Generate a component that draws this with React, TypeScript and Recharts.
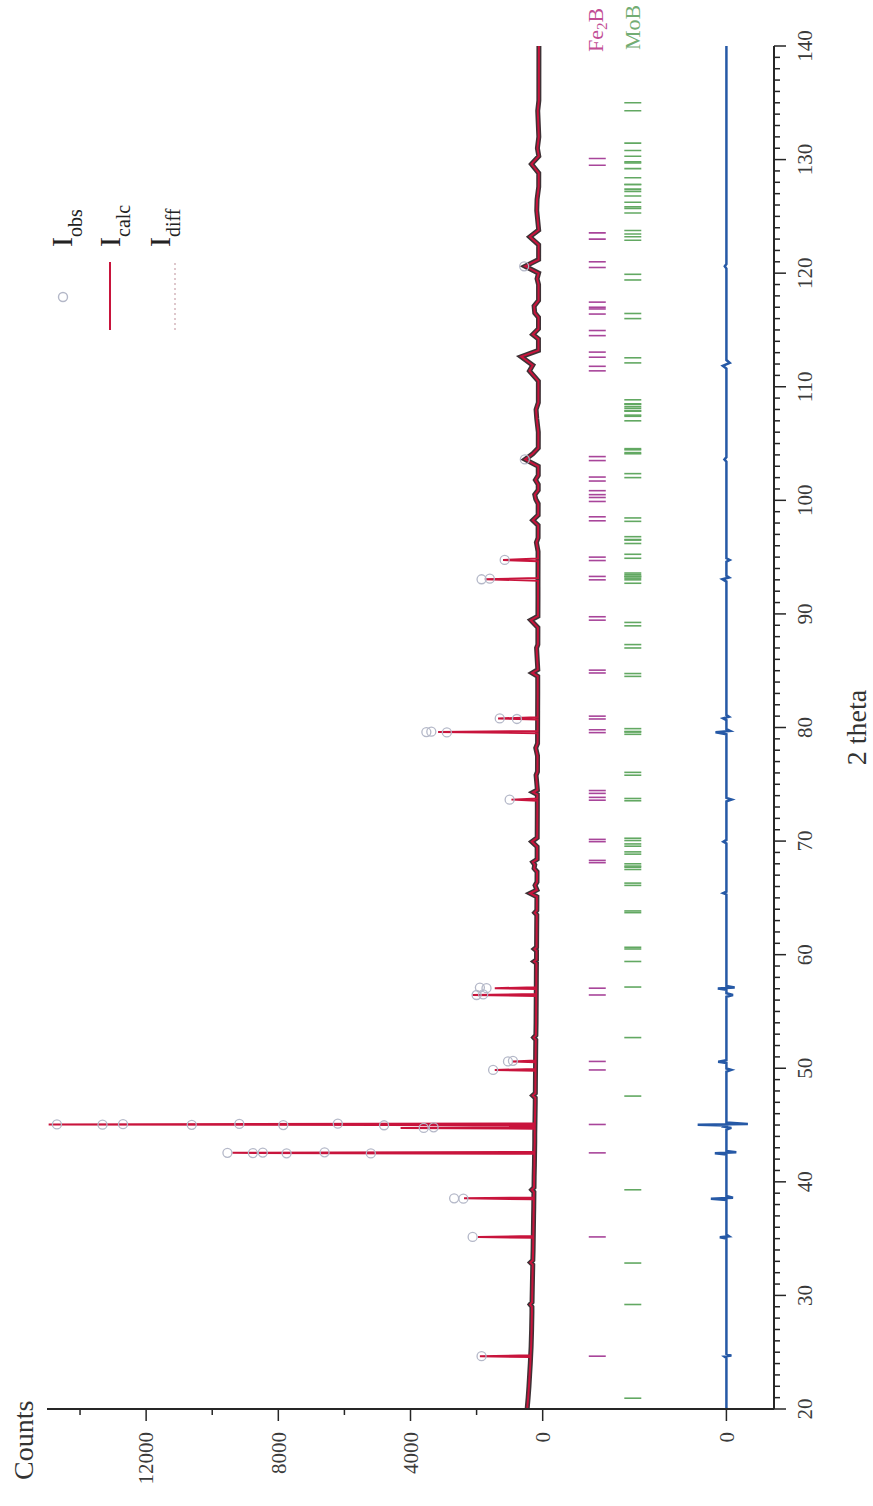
import React from 'react';
import { ComposedChart, Line, Scatter, XAxis, YAxis, Legend } from 'recharts';

const SERIF = '"Liberation Serif", "Times New Roman", "DejaVu Serif", serif';
const W = 1506;
const H = 873;

// ---- axis ticks ----
const twoThetaMajorTicks = [20, 30, 40, 50, 60, 70, 80, 90, 100, 110, 120, 130, 140];
const countMajorTicks = [0, 4000, 8000, 12000];
const countMinorTicks = [2000, 6000, 10000, 14000];
const DIFF_ZERO = -5560; // where the difference curve's own "0" sits on the count axis
const FE2B_ROW = -1652;
const MOB_ROW = -2727;

// ---- background profile (2theta, counts), Iobs ~ Icalc here ----
const background: [number, number][] = [
  [20, 470], [21, 440], [22, 415], [23, 395], [24, 375],
  [25.5, 350], [27, 335], [28.5, 325], [29.0, 325], [29.2, 380], [29.4, 322],
  [30.5, 315], [32, 305], [32.7, 300], [32.9, 370], [33.1, 298], [34, 290],
  [36, 280], [37, 275], [37.8, 270],
  [39.1, 265], [39.3, 330], [39.5, 262], [40.5, 258], [41.5, 250],
  [43.5, 240], [44.2, 240],
  [46, 230], [47, 225], [47.4, 225], [47.6, 300], [47.8, 222], [48.8, 220],
  [51.5, 212], [52.5, 208], [52.7, 270], [52.9, 206], [54, 200], [55, 198], [55.8, 196],
  [57.8, 192], [58.8, 190], [59.25, 188], [59.4, 260], [59.55, 187], [60.35, 186], [60.5, 250], [60.65, 185],
  [62, 182], [63.5, 178], [63.7, 240], [63.9, 177],
  [65.1, 175], [65.4, 380], [65.7, 174], [66.1, 230], [66.4, 172],
  [67.3, 170], [67.6, 260], [67.9, 240], [68.15, 300], [68.4, 168],
  [69.5, 168], [69.95, 330], [70.3, 166], [71.5, 164], [72.8, 162],
  [74.1, 162], [74.3, 290], [74.5, 160], [75.8, 200], [76.1, 158], [77.5, 156], [78.2, 210], [78.6, 155],
  [81.5, 152], [83, 150], [84.5, 150], [84.8, 320], [85.1, 148],
  [87, 185], [87.3, 146], [88.8, 145], [89.45, 360], [89.8, 144], [91.5, 142], [92.4, 142],
  [95.5, 140], [96.3, 190], [96.7, 139], [97.8, 138], [98.25, 300], [98.7, 137],
  [99.7, 136], [100.1, 210], [100.5, 240], [100.9, 135], [101.4, 135], [101.8, 220], [102.2, 134],
  [103, 134], [103.6, 530], [104.1, 300], [104.6, 133],
  [106, 132], [107.2, 180], [108, 200], [108.6, 131],
  [110.5, 130], [111.4, 400], [111.9, 300], [112.65, 650], [113.2, 128],
  [114.2, 128], [114.6, 300], [115.1, 127], [116.1, 126], [116.5, 240], [117.1, 260], [117.6, 125],
  [119, 125], [119.5, 170], [120.0, 124], [120.6, 530], [121.2, 123],
  [122.5, 122], [123.2, 390], [123.8, 121],
  [125.5, 180], [126.5, 170], [127.6, 120], [128.8, 119], [129.6, 340], [130.3, 118],
  [131, 160], [132, 117], [134.3, 150], [135.2, 116], [137, 115], [140, 114],
];

// ---- strong reflections: 2theta, half width, base, Iobs top, Icalc top ----
const peaks: [number, number, number, number, number][] = [
  [24.65, 0.08, 365, 1850, 1900],
  [35.15, 0.08, 285, 2120, 1960],
  [38.55, 0.08, 268, 2680, 2380],
  [42.55, 0.08, 248, 9540, 9390],
  [44.75, 0.08, 240, 3600, 4300],
  [45.05, 0.08, 238, 14700, 14950],
  [49.85, 0.08, 218, 1500, 1450],
  [50.6, 0.08, 215, 1050, 900],
  [56.45, 0.08, 195, 2000, 2125],
  [57.05, 0.08, 193, 1700, 1450],
  [73.65, 0.1, 162, 1000, 945],
  [79.6, 0.1, 153, 3520, 3165],
  [80.8, 0.1, 152, 1300, 1350],
  [93.05, 0.12, 142, 1850, 1750],
  [94.75, 0.12, 141, 1150, 1200],
];

// ---- visible observed points (open circles) ----
const obsMarks: [number, number][] = [
  [45.05, 14700], [45.03, 13320], [45.08, 12700], [45.02, 10620], [45.1, 9180], [45.0, 7850], [45.12, 6200], [44.98, 4800],
  [42.55, 9540], [42.53, 8770], [42.58, 8470], [42.51, 7750], [42.6, 6600], [42.5, 5200],
  [44.75, 3600], [44.8, 3300],
  [38.55, 2680], [38.52, 2400], [35.15, 2120], [24.65, 1850],
  [49.85, 1500], [50.6, 1050], [50.65, 900], [56.45, 2000], [56.5, 1800], [57.05, 1700], [57.1, 1900],
  [73.65, 1000], [79.6, 3520], [79.63, 3370], [79.57, 2900], [80.8, 1300], [80.75, 780],
  [93.05, 1850], [93.1, 1600], [94.75, 1150], [103.6, 540], [120.6, 560],
];

// ---- difference curve (2theta, Iobs - Icalc) ----
const diffPoints: [number, number][] = [
  [20, 0], [24.5, 0], [24.62, 60], [24.7, -150], [24.85, 0],
  [35.0, 0], [35.12, 200], [35.2, -80], [35.35, 0],
  [38.4, 0], [38.52, 470], [38.6, -200], [38.75, 0],
  [42.4, 0], [42.52, 350], [42.6, -300], [42.72, 0],
  [44.6, 0], [44.75, -150], [44.85, 60], [44.95, 0], [45.02, 870], [45.1, -650], [45.22, 0],
  [49.7, 0], [49.85, -150], [49.98, 0], [50.45, 0], [50.58, 250], [50.7, 0],
  [56.3, 0], [56.45, -200], [56.6, 0], [56.9, 0], [57.02, 260], [57.12, -250], [57.25, 0],
  [65.3, 0], [65.42, 100], [65.55, 0], [69.8, 0], [69.95, 90], [70.1, 0],
  [73.5, 0], [73.65, -160], [73.8, 0],
  [79.4, 0], [79.58, 330], [79.7, -110], [79.85, 0],
  [80.65, 0], [80.8, 100], [80.95, -80], [81.1, 0],
  [92.85, 0], [93.05, 120], [93.2, -80], [93.35, 0], [94.6, 0], [94.75, -100], [94.9, 0],
  [103.4, 0], [103.6, 60], [103.8, 0],
  [111.6, 0], [111.85, 110], [112.1, -100], [112.35, 0],
  [120.4, 0], [120.6, 50], [120.8, 0], [140, 0],
];

// ---- Bragg reflection positions ----
const fe2bKa1 = [24.65, 35.15, 42.55, 45.05, 49.85, 50.6, 56.45, 57.05, 68.1, 69.95, 73.6, 74.2, 79.55, 80.75, 84.8, 89.45, 93.0, 94.7, 98.2, 99.9, 100.5, 101.7, 103.5, 111.4, 112.6, 114.5, 116.4, 117.0, 120.5, 123.0, 129.5];
const fe2bKa2 = [68.3, 70.15, 73.85, 74.45, 79.8, 81.0, 85.05, 89.75, 93.3, 95.0, 98.55, 100.25, 100.85, 102.05, 103.85, 111.8, 113.05, 114.95, 116.85, 117.45, 121.0, 123.55, 130.1];
const mobKa1 = [20.95, 29.2, 32.85, 39.3, 47.55, 52.7, 57.15, 59.4, 60.5, 63.7, 66.1, 67.5, 67.8, 68.85, 69.55, 70.05, 73.55, 75.8, 79.4, 79.65, 84.5, 87.0, 88.95, 92.7, 93.0, 93.15, 93.3, 94.9, 96.2, 96.5, 98.15, 102.0, 104.1, 104.2, 107.0, 107.5, 107.85, 108.1, 108.45, 112.1, 116.0, 119.4, 122.9, 123.2, 125.3, 125.7, 126.8, 127.2, 127.8, 129.2, 129.7, 130.8, 134.3];
const mobKa2 = [60.65, 63.85, 66.3, 67.7, 68.0, 69.05, 69.75, 70.25, 73.75, 76.05, 79.6, 79.9, 84.75, 87.3, 89.25, 93.3, 93.45, 93.6, 95.25, 96.55, 96.8, 98.45, 102.35, 104.45, 104.55, 107.4, 107.9, 108.25, 108.5, 108.85, 112.55, 116.45, 119.9, 123.45, 123.75, 125.85, 126.25, 127.4, 127.8, 128.4, 129.8, 130.3, 131.45, 135.0];

// ---- series tables built from the arrays ----
const obsBandData = background.map(([x, y]) => ({ x, y }));
const calcData = [
  ...background.map(([x, y]) => ({ x, y })),
  ...peaks.flatMap(([t, w, base, , calc]) => [
    { x: t - w, y: base },
    { x: t, y: calc },
    { x: t + w, y: base },
  ]),
].sort((a, b) => a.x - b.x);
const obsMarkData = obsMarks.map(([x, y]) => ({ x, y }));
const diffData = diffPoints.map(([x, d]) => ({ x, y: DIFF_ZERO + d }));
const fe2bData = [...fe2bKa1, ...fe2bKa2].map((x) => ({ x, y: FE2B_ROW }));
const mobData = [...mobKa1, ...mobKa2].map((x) => ({ x, y: MOB_ROW }));

const xTicks = Array.from({ length: 121 }, (_, i) => 20 + i);
const yTicks = [DIFF_ZERO, ...countMajorTicks, ...countMinorTicks].sort((a, b) => a - b);

const AXIS = '#262626';
const TICKTXT = '#3a3a3a';

const XTick = (props: any) => {
  const { x, y, payload } = props;
  const v = payload.value;
  const major = twoThetaMajorTicks.includes(v);
  return (
    <g>
      <line x1={x} x2={x} y1={y} y2={y + (major ? 12 : 6)} stroke={AXIS} strokeWidth={1.5} />
      {major && (
        <text x={x} y={y + 38} textAnchor="middle" fontSize={21} fontFamily={SERIF} fill={TICKTXT}>
          {v}
        </text>
      )}
    </g>
  );
};

const YTick = (props: any) => {
  const { x, y, payload } = props;
  const v = payload.value;
  const major = v === DIFF_ZERO || countMajorTicks.includes(v);
  const label = v === DIFF_ZERO ? '0' : String(v);
  return (
    <g>
      <line x1={x} x2={x - (major ? 12 : 6)} y1={y} y2={y} stroke={AXIS} strokeWidth={1.5} />
      {major && (
        <text x={x - 23} y={y} dy="0.35em" textAnchor="end" fontSize={21} fontFamily={SERIF} fill={TICKTXT}>
          {label}
        </text>
      )}
    </g>
  );
};

const CALC = '#c8143c';
const BAND = '#3e3236';
const OBS = '#b4b8c8';
const DIFF = '#2659a6';
const FE2B = '#a8459a';
const MOB = '#62a862';

const LegendBox = () => (
  <svg width={180} height={170} style={{ overflow: 'visible', display: 'block' }}>
    <circle cx={49} cy={33} r={4.5} fill="none" stroke={OBS} strokeWidth={1.4} />
    <text x={99} y={42} fontSize={30} fontFamily={SERIF} fill="#222">
      I<tspan fontSize={20} dy={10}>obs</tspan>
    </text>
    <line x1={16} x2={84} y1={80} y2={80} stroke={CALC} strokeWidth={2} />
    <text x={99} y={90} fontSize={30} fontFamily={SERIF} fill="#222">
      I<tspan fontSize={20} dy={10}>calc</tspan>
    </text>
    <line x1={16} x2={83} y1={145} y2={145} stroke="#c9a3ab" strokeWidth={1.2} strokeDasharray="2 3" />
    <text x={99} y={140} fontSize={30} fontFamily={SERIF} fill="#222">
      I<tspan fontSize={20} dy={10}>diff</tspan>
    </text>
  </svg>
);

const markShape = (color: string) => (p: any) => (
  <line x1={p.cx} x2={p.cx} y1={p.cy - 8.5} y2={p.cy + 8.5} stroke={color} strokeWidth={1.6} />
);

const circleShape = (p: any) => (
  <circle cx={p.cx} cy={p.cy} r={4.5} fill="none" stroke={OBS} strokeWidth={1.3} />
);

export default function App() {
  return (
    <div style={{ position: 'absolute', left: 0, top: 0, width: 873, height: 1506, overflow: 'hidden', background: '#fff' }}>
      <div
        style={{
          position: 'absolute',
          left: 0,
          top: 0,
          width: W,
          height: H,
          transformOrigin: '0 0',
          transform: `translate(0px, ${W}px) rotate(-90deg)`,
        }}
      >
        <ComposedChart width={W} height={H} margin={{ top: 47, right: 46, bottom: 0, left: 0 }}>
          <XAxis
            dataKey="x"
            type="number"
            domain={[20, 140]}
            allowDataOverflow
            ticks={xTicks}
            interval={0}
            tick={<XTick />}
            tickLine={false}
            tickSize={0}
            tickMargin={0}
            height={99}
            axisLine={{ stroke: AXIS, strokeWidth: 2 }}
            label={(p: any) => {
              const vb = p.viewBox || { x: 97, y: 774, width: 1363 };
              return (
                <text x={vb.x + vb.width / 2} y={vb.y + 92} textAnchor="middle" fontSize={28} fontFamily={SERIF} fill="#333">
                  2 theta
                </text>
              );
            }}
          />
          <YAxis
            type="number"
            domain={[-7000, 15000]}
            allowDataOverflow
            ticks={yTicks}
            interval={0}
            tick={<YTick />}
            tickLine={false}
            tickSize={0}
            tickMargin={0}
            width={97}
            axisLine={{ stroke: AXIS, strokeWidth: 2 }}
            label={(p: any) => {
              const vb = p.viewBox || { x: 0, y: 47 };
              return (
                <text x={vb.x + 26} y={vb.y - 14} fontSize={28} fontFamily={SERIF} fill="#333">
                  Counts
                </text>
              );
            }}
          />
          <Legend
            layout="horizontal"
            verticalAlign="middle"
            align="center"
            content={() => <LegendBox />}
            wrapperStyle={{ position: 'absolute', left: 1160, top: 30, width: 180, height: 170 }}
          />
          <Line data={obsBandData} dataKey="y" type="linear" stroke={BAND} strokeWidth={5} dot={false} activeDot={false} isAnimationActive={false} legendType="none" />
          <Scatter data={obsMarkData} dataKey="y" shape={circleShape} isAnimationActive={false} legendType="none" />
          <Line data={calcData} dataKey="y" type="linear" stroke={CALC} strokeWidth={2} dot={false} activeDot={false} isAnimationActive={false} legendType="none" />
          <Line data={diffData} dataKey="y" type="linear" stroke={DIFF} strokeWidth={2.5} dot={false} activeDot={false} isAnimationActive={false} legendType="none" />
          <Scatter data={fe2bData} dataKey="y" shape={markShape(FE2B)} isAnimationActive={false} legendType="none" />
          <Scatter data={mobData} dataKey="y" shape={markShape(MOB)} isAnimationActive={false} legendType="none" />
        </ComposedChart>
        <svg width={W} height={H} style={{ position: 'absolute', left: 0, top: 0, pointerEvents: 'none' }}>
          <text x={1454} y={603} fontSize={22} fontFamily={SERIF} fill="#c24d95">
            Fe<tspan fontSize={15} dy={4}>2</tspan>
            <tspan dy={-4}>B</tspan>
          </text>
          <text x={1456} y={640} fontSize={22} fontFamily={SERIF} fill="#73ad73">
            MoB
          </text>
        </svg>
      </div>
    </div>
  );
}
